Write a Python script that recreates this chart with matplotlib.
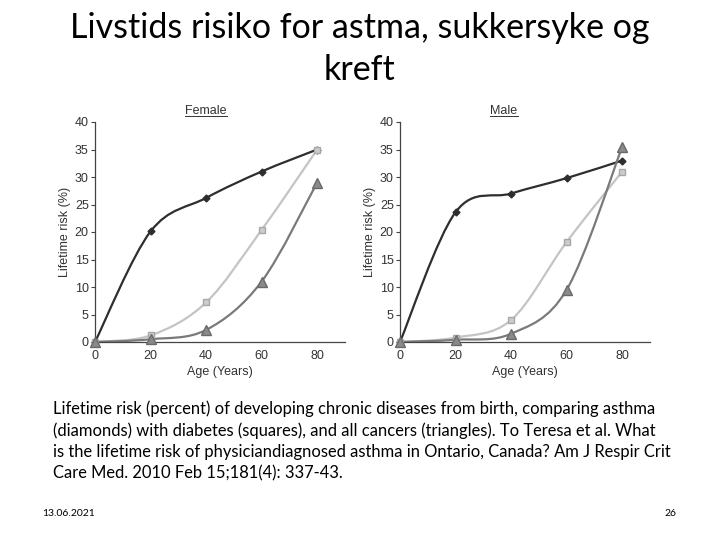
import matplotlib
matplotlib.use("Agg")
import matplotlib.pyplot as plt
from matplotlib.path import Path
from matplotlib.patches import PathPatch
import numpy as np

ages = [0, 20, 40, 60, 80]
female_asthma = [0, 20.1, 26.2, 31.0, 35.0]
female_diabetes = [0, 1.2, 7.2, 20.4, 35.0]
female_cancer = [0, 0.5, 2.2, 11.0, 29.0]
male_asthma = [0, 23.6, 27.0, 29.8, 33.0]
male_diabetes = [0, 0.8, 4.0, 18.2, 31.0]
male_cancer = [0, 0.4, 1.5, 9.5, 35.5]

title = "Livstids risiko for astma, sukkersyke og\nkreft"
caption = ("Lifetime risk (percent) of developing chronic diseases from birth, comparing asthma\n"
           "(diamonds) with diabetes (squares), and all cancers (triangles). To Teresa et al. What\n"
           "is the lifetime risk of physiciandiagnosed asthma in Ontario, Canada? Am J Respir Crit\n"
           "Care Med. 2010 Feb 15;181(4): 337-43.")

def smooth_path(x, y):
    pts = np.column_stack([x, y]).astype(float)
    n = len(pts)
    verts = [pts[0]]
    codes = [Path.MOVETO]
    for i in range(n - 1):
        p0 = pts[i - 1] if i > 0 else pts[i]
        p1 = pts[i]
        p2 = pts[i + 1]
        p3 = pts[i + 2] if i + 2 < n else pts[i + 1]
        c1 = p1 + (p2 - p0) / 6.0
        c2 = p2 - (p3 - p1) / 6.0
        verts += [c1, c2, p2]
        codes += [Path.CURVE4] * 3
    return Path(verts, codes)

fig = plt.figure(figsize=(7.2, 5.4), dpi=100)
fig.text(0.5, 0.978, title, ha="center", va="top", fontsize=24.5, family="Lato", linespacing=1.38)

styles = [
    ("#2e2e2e", "D", "#2e2e2e", "#2e2e2e", 3.5),
    ("#c4c4c4", "s", "#cccccc", "#a8a8a8", 5),
    ("#7a7a7a", "^", "#8a8a8a", "#6a6a6a", 7),
]

panels = [
    ("Female", 95, 206, [female_asthma, female_diabetes, female_cancer]),
    ("Male", 400, 504, [male_asthma, male_diabetes, male_cancer]),
]

for name, left_px, title_px, series in panels:
    ax = fig.add_axes([left_px / 720, (540 - 342) / 540, 250 / 720, 220 / 540])
    for (lc, mk, mfc, mec, ms), ys in zip(styles, series):
        ax.add_patch(PathPatch(smooth_path(ages, ys), facecolor="none", edgecolor=lc, lw=1.6, zorder=2))
        ax.plot(ages, ys, linestyle="none", marker=mk, color=lc, markerfacecolor=mfc,
                markeredgecolor=mec, markersize=ms, zorder=3, clip_on=False)
    ax.set_xlim(0, 90)
    ax.set_ylim(0, 40)
    ax.set_xticks([0, 20, 40, 60, 80])
    ax.set_yticks(range(0, 41, 5))
    for s in ["top", "right"]:
        ax.spines[s].set_visible(False)
    for s in ["left", "bottom"]:
        ax.spines[s].set_color("#444444")
        ax.spines[s].set_linewidth(0.9)
    ax.tick_params(axis="x", length=0, pad=6, labelsize=9, labelcolor="#333333")
    ax.tick_params(axis="y", length=3, width=0.8, color="#444444", pad=1.5, labelsize=9, labelcolor="#333333")
    for lab in ax.get_xticklabels() + ax.get_yticklabels():
        lab.set_family("Liberation Sans")
    ax.set_xlabel("Age (Years)", fontsize=9, family="Liberation Sans", color="#333333", labelpad=3)
    ax.set_ylabel("Lifetime risk (%)", fontsize=9, family="Liberation Sans", color="#333333", labelpad=3)
    t = fig.text(title_px / 720, (540 - 111) / 540, name, ha="center", va="center",
                 fontsize=9, family="Liberation Sans", color="#333333")
    fig.canvas.draw()
    bb = t.get_window_extent().transformed(fig.transFigure.inverted())
    fig.add_artist(plt.Line2D([bb.x0, bb.x1], [bb.y0 + 0.002, bb.y0 + 0.002], color="#333333", lw=0.7))

fig.text(0.074, 0.258, caption, ha="left", va="top", fontsize=11.9, family="Lato", linespacing=1.4)
fig.text(0.058, 0.05, "13.06.2021", ha="left", va="center", fontsize=7.5, family="Lato")
fig.text(0.94, 0.05, "26", ha="right", va="center", fontsize=7.5, family="Lato")

fig.savefig("out.png", dpi=100)
